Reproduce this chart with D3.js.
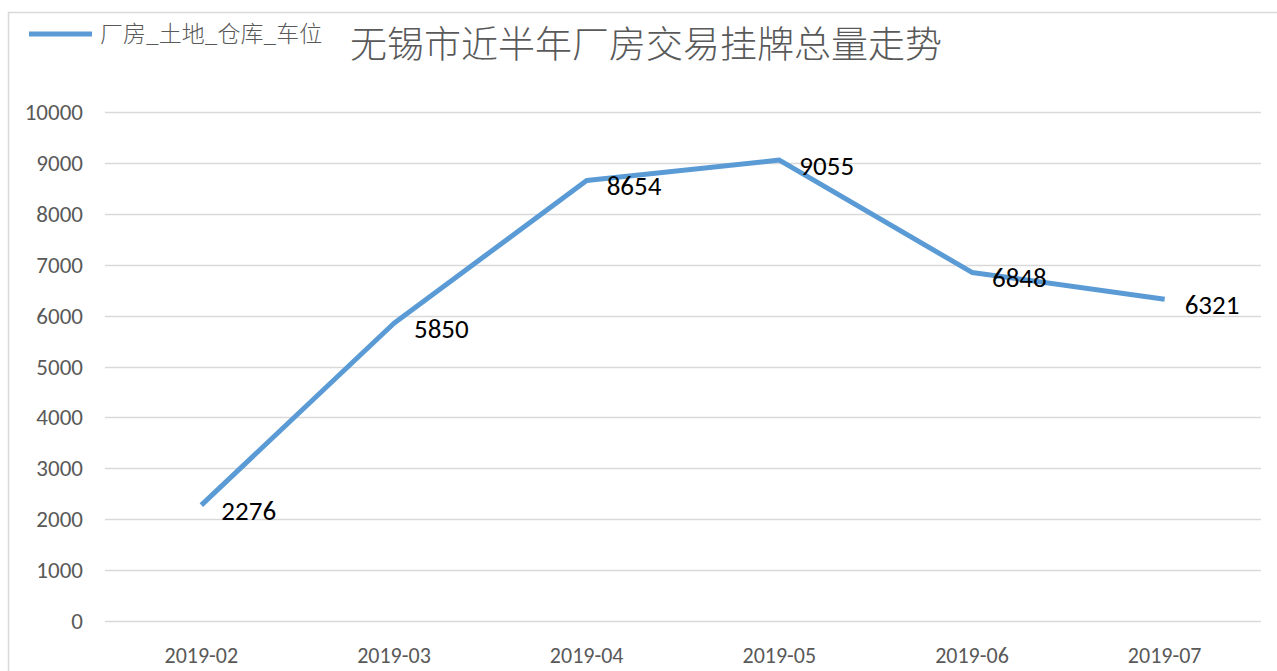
<!DOCTYPE html>
<html>
<head>
<meta charset="utf-8">
<script src="https://cdn.jsdelivr.net/npm/d3@7"></script>
<style>
  body { margin: 0; background: #fff; }
  svg { display: block; }
</style>
</head>
<body>
<script>
// 无锡市近半年厂房交易挂牌总量走势
const months = ["2019-02", "2019-03", "2019-04", "2019-05", "2019-06", "2019-07"];
const counts = [2276, 5850, 8654, 9055, 6848, 6321];
const yTicks = [0, 1000, 2000, 3000, 4000, 5000, 6000, 7000, 8000, 9000, 10000];
const seriesName = "厂房_土地_仓库_车位";
const title = "无锡市近半年厂房交易挂牌总量走势";

const width = 1277, height = 671;
const margin = {top: 112, right: 16, bottom: 50, left: 105};
const latin = "Carlito, 'Open Sans', 'Liberation Sans', sans-serif";

const svg = d3.select("body").append("svg")
    .attr("width", width)
    .attr("height", height);

// chart frame
svg.append("rect")
    .attr("x", 8.5).attr("y", 12.5)
    .attr("width", width + 20).attr("height", height + 20)
    .attr("fill", "none")
    .attr("stroke", "#d9d9d9")
    .attr("stroke-width", 1.5);

const x = d3.scaleBand()
    .domain(months)
    .range([margin.left, width - margin.right]);

const y = d3.scaleLinear()
    .domain([0, 10000])
    .range([height - margin.bottom, margin.top]);

// gridlines
svg.append("g")
    .selectAll("line")
    .data(yTicks)
    .join("line")
    .attr("x1", margin.left)
    .attr("x2", width - margin.right)
    .attr("y1", d => Math.round(y(d)) + 0.5)
    .attr("y2", d => Math.round(y(d)) + 0.5)
    .attr("stroke", "#d9d9d9")
    .attr("stroke-width", 1.5);

// y axis labels
svg.append("g")
    .selectAll("text")
    .data(yTicks)
    .join("text")
    .attr("x", 83)
    .attr("y", d => y(d))
    .attr("dy", "0.35em")
    .attr("text-anchor", "end")
    .attr("font-family", latin)
    .attr("font-size", 23)
    .attr("fill", "#595959")
    .text(d => d);

// x axis labels
svg.append("g")
    .selectAll("text")
    .data(months)
    .join("text")
    .attr("x", d => x(d) + x.bandwidth() / 2)
    .attr("y", 663)
    .attr("text-anchor", "middle")
    .attr("font-family", latin)
    .attr("font-size", 22)
    .attr("fill", "#595959")
    .text(d => d);

const pts = months.map((m, i) => ({m, v: counts[i]}));

const line = d3.line()
    .x(d => x(d.m) + x.bandwidth() / 2)
    .y(d => y(d.v));

svg.append("path")
    .datum(pts)
    .attr("d", line)
    .attr("fill", "none")
    .attr("stroke", "#5b9bd5")
    .attr("stroke-width", 5)
    .attr("stroke-linejoin", "round");

// data labels
svg.append("g")
    .selectAll("text")
    .data(pts)
    .join("text")
    .attr("x", d => x(d.m) + x.bandwidth() / 2 + 20)
    .attr("y", d => y(d.v) + 5)
    .attr("dy", "0.35em")
    .attr("font-family", latin)
    .attr("font-size", 27)
    .attr("fill", "#000")
    .text(d => d.v);

// legend
svg.append("line")
    .attr("x1", 29).attr("x2", 92)
    .attr("y1", 34).attr("y2", 34)
    .attr("stroke", "#5b9bd5")
    .attr("stroke-width", 5);

svg.append("text")
    .attr("x", 100)
    .attr("y", 34)
    .attr("dy", "0.35em")
    .attr("font-family", "'Noto Sans CJK SC', sans-serif")
    .attr("font-size", 23)
    .attr("font-weight", 300)
    .attr("fill", "#595959")
    .text(seriesName);

// title
svg.append("text")
    .attr("x", 350)
    .attr("y", 45)
    .attr("dy", "0.35em")
    .attr("font-family", "'Noto Sans CJK SC', sans-serif")
    .attr("font-size", 37)
    .attr("font-weight", 300)
    .attr("fill", "#595959")
    .text(title);
</script>
</body>
</html>
